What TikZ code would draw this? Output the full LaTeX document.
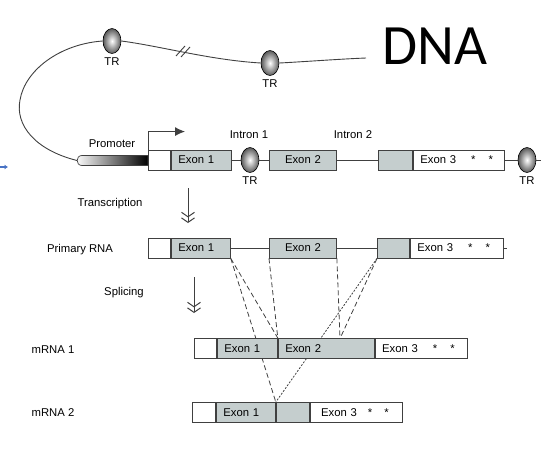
\documentclass[tikz,border=0pt]{standalone}
\usepackage{fontspec}
\setmainfont{Liberation Sans}
\newfontfamily\dnafont{Carlito}
\usetikzlibrary{arrows.meta}
\usetikzlibrary{shapes.geometric}
\definecolor{exongrey}{RGB}{197,206,206}
\definecolor{inkgrey}{RGB}{64,64,64}
\definecolor{markblue}{RGB}{72,114,196}
\pgfdeclarelayer{background}
\pgfsetlayers{background,main}
\tikzset{
lbl/.style={font=\fontsize{11.3}{13}\selectfont},
seg/.style={lbl, draw=inkgrey, line width=0.9pt, fill=white, minimum height=20pt,
  inner xsep=7pt, inner ysep=0pt, anchor=west, align=left, text width=#1},
exon/.style={seg=#1, fill=exongrey},
bead/.style={ellipse, draw=black, line width=0.6pt, inner sep=0pt, minimum width=18pt,
  minimum height=25pt, shade, inner color=white, outer color=black!65, label distance=2pt},
dnaline/.style={draw=inkgrey, line width=0.9pt},
splice/.style={inkgrey, line width=0.8pt, dash pattern=on 5pt off 3pt},
splicefine/.style={inkgrey, line width=0.8pt, dash pattern=on 2pt off 1.5pt},
stagearrow/.style={dnaline, -{Straight Barb[length=4.5pt,width=13pt,line width=1pt] Straight Barb[length=4.5pt,width=13pt,line width=1pt]}}}

\begin{document}
\begin{tikzpicture}[x=1pt, y=-1pt]
    \useasboundingbox (0,0) rectangle (559,458);

    % DNA strand on top
    \node[bead, label={[lbl]below:TR}] (b1) at (112,41) {};
    \node[bead, label={[lbl]below:TR}] (b2) at (270,63) {};
    \coordinate (dnaend) at (366,58);
    \node[anchor=base, font=\dnafont\fontsize{57}{60}\selectfont] (dna) at (435,64) {DNA};

    \draw[dnaline] (b1.east) .. controls (160,46) and (210,60) .. (b2.west);
    \draw[dnaline] (b2.east) .. controls (300,62) and (340,59) .. (dnaend);
    \draw[dnaline] (176,56) -- (185,46) (181,57) -- (190,47);

    % promoter and gene
    \coordinate (capL) at (77,160.5);
    \shade[left color=white, middle color=black!25, right color=black, draw=inkgrey, line width=0.7pt]
        (148,155.5) -- (82,155.5) .. controls (75.5,155.5) and (75.5,165.5) .. (82,165.5) -- (148,165.5) -- cycle;
    \draw[dnaline] (capL) .. controls (35,150) and (15,125) .. (20,100) .. controls (25,70) and (60,44) .. (b1.west);

    \node[seg=8pt] (d0) at (148,160) {};
    \node[exon=46pt] (d1) at (d0.east) {Exon 1};
    \node[bead, label={[lbl]below:TR}] (b3) at (250,160) {};
    \node[exon=53pt, align=center] (d2) at (269,160) {Exon 2};
    \node[exon=20pt] (d3) at (378,160) {};
    \node[seg=77pt] (d4) at (d3.east) {Exon 3\hspace{15pt}*\hspace{13pt}*};
    \node[bead, label={[lbl]below:TR}] (b4) at (527,160) {};
    \coordinate (dend) at (541,160);

    \draw[dnaline] (d1) -- (b3) -- (d2) -- (d3);
    \draw[dnaline] (d4) -- (b4) -- (dend);
    \draw[dnaline, -{Latex[length=10pt,width=9pt]}] (d0.north west) -- ++(0,-18) -- ++(37,0);

    \node[lbl] (prom) at (112,144) {Promoter};
    \node[lbl] (in1) at (249,135) {Intron 1};
    \node[lbl] (in2) at (353,135) {Intron 2};

    % transcription
    \node[lbl] (trans) at (110,204) {Transcription};
    \coordinate (ta) at (188,188);
    \coordinate (tb) at (188,223);
    \draw[stagearrow] (ta) -- (tb);

    % primary RNA
    \node[lbl] (prim) at (80,250) {Primary RNA};
    \node[seg=8pt] (r0) at (148,248) {};
    \node[exon=45pt] (r1) at (r0.east) {Exon 1};
    \node[exon=53pt, align=center] (r2) at (269,248) {Exon 2};
    \node[exon=18pt] (r3) at (377,248) {};
    \node[seg=79pt] (r4) at (r3.east) {Exon 3\hspace{15pt}*\hspace{13pt}*};
    \coordinate (rend) at (507,248);
    \draw[dnaline] (r1) -- (r2) -- (r3);
    \draw[dnaline] (r4) -- (rend);

    % splicing
    \node[lbl] (spl) at (124,293) {Splicing};
    \coordinate (sa) at (194,277);
    \coordinate (sb) at (194,313);
    \draw[stagearrow] (sa) -- (sb);

    % mRNA 1
    \node[lbl] (mr1) at (53,350) {mRNA 1};
    \node[seg=8pt] (m0) at (194,348.5) {};
    \node[exon=46pt] (m1) at (m0.east) {Exon 1};
    \node[exon=82pt] (m2) at (m1.east) {Exon 2};
    \node[seg=78pt] (m3) at (m2.east) {Exon 3\hspace{15pt}*\hspace{13pt}*};
    \coordinate (mj) at (340,338.5);

    % mRNA 2
    \node[lbl] (mr2) at (53,413) {mRNA 2};
    \node[seg=9pt] (n0) at (192,412.5) {};
    \node[exon=45pt] (n1) at (n0.east) {Exon 1};
    \node[exon=19pt] (n2) at (n1.east) {};
    \node[seg=78pt] (n3) at (n2.east) {\hspace*{4pt}Exon 3\hspace{11pt}*\hspace{12pt}*};

    \begin{pgfonlayer}{background}
    \draw[splice] (r1.south east) -- (m1.north east);
    \draw[splice] (r2.south west) -- (m1.north east);
    \draw[splice] (r1.south east) -- (n1.north east);
    \draw[splice] (r2.south east) -- (mj);
    \draw[splice] (r3.south west) -- (mj);
    \draw[splicefine] (r3.south west) -- (n2.north west);
    \end{pgfonlayer}

    % stray marker at the left edge
    \coordinate (bm1) at (0,167);
    \coordinate (bm2) at (8,167);
    \draw[markblue, line width=1.2pt, -{Latex[length=3.5pt,width=5pt]}] (bm1) -- (bm2);

\end{tikzpicture}
\end{document}
